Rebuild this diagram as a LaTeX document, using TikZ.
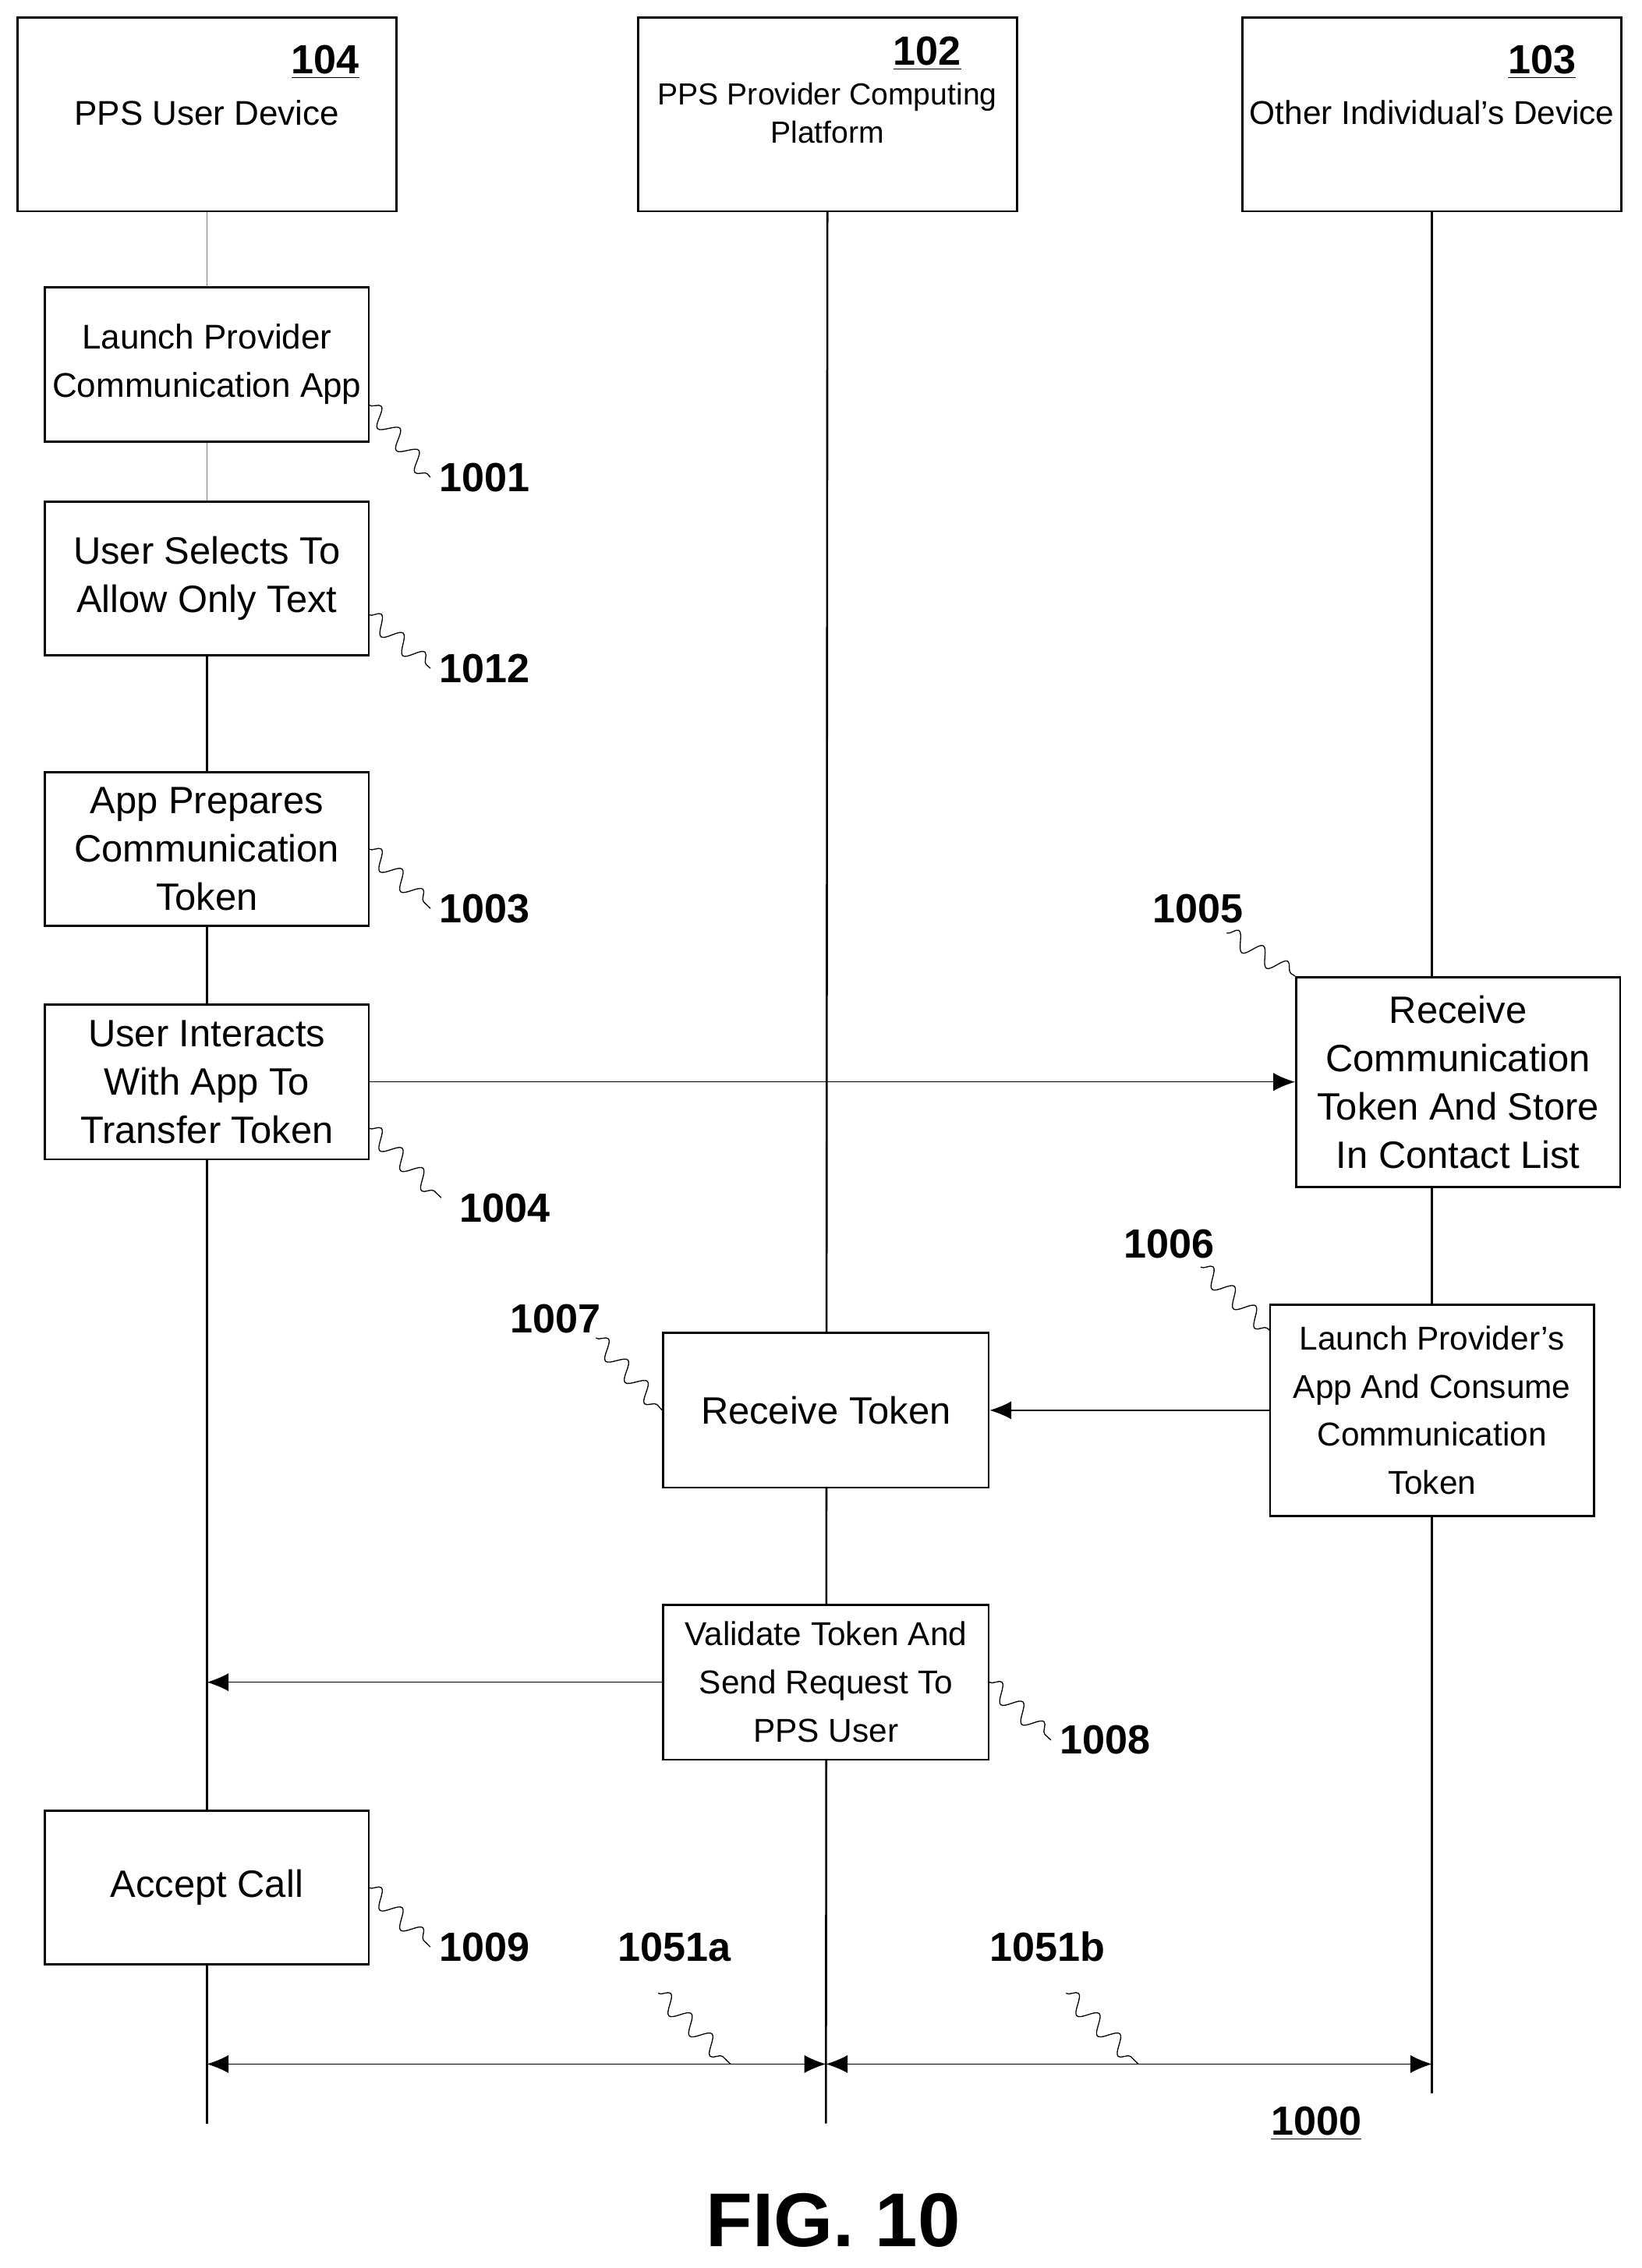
\documentclass[tikz,border=0pt]{standalone}
\usepackage{fontspec}
\setmainfont{Liberation Sans}
\usetikzlibrary{arrows.meta,decorations.pathmorphing}
\begin{document}
\begin{tikzpicture}[x=0.02cm,y=-0.02cm,
  head/.style={rectangle, draw=black, thick, inner sep=0pt},
  procbox/.style={rectangle, draw=black, thick, fill=white, align=center, inner sep=0pt, font=\fontsize{15}{19}\selectfont},
  ref/.style={font=\fontsize{16}{19}\selectfont\bfseries},
  wave/.style={decorate, decoration={snake, amplitude=1.2mm, segment length=4mm}, thin},
  msg/.style={-{Latex[length=3mm,width=2.5mm]}, thin},
  life/.style={thick},
  ]
\useasboundingbox (0,0) rectangle (1135,1568);
% headers
\node[head, minimum width=5.24cm, minimum height=2.68cm] (dev) at (143,79) {};
\node[ref] at (225,43) {\underline{104}};
\node[font=\fontsize{13.5}{16}\selectfont] at (143,78) {PPS User Device};
\node[head, minimum width=5.24cm, minimum height=2.68cm] (plat) at (572,79) {};
\node[ref] at (641,37) {\underline{102}};
\node[font=\fontsize{12}{15}\selectfont, align=center] at (572,78) {PPS Provider Computing\\Platform};
\node[head, minimum width=5.24cm, minimum height=2.68cm] (other) at (990,79) {};
\node[ref] at (1066,43) {\underline{103}};
\node[font=\fontsize{13}{16}\selectfont] at (990,78) {Other Individual’s Device};
% lifelines
\coordinate (devend) at (143,1468);
\coordinate (platend) at (571,1468);
\coordinate (otherend) at (990,1447);
\draw[gray, thin] (dev.south) -- (143,453);
\draw[life] (143,453) -- (devend);
\draw[life] (plat.south) -- (platend);
\draw[life] (other.south) -- (otherend);
% steps
\node[procbox, minimum width=4.48cm, minimum height=2.14cm, font=\fontsize{13.5}{19}\selectfont] (s1001) at (143,252) {Launch Provider\\Communication App};
\node[procbox, minimum width=4.48cm, minimum height=2.12cm] (s1012) at (143,400) {User Selects To\\Allow Only Text};
\node[procbox, minimum width=4.48cm, minimum height=2.12cm] (s1003) at (143,587) {App Prepares\\Communication\\Token};
\node[procbox, minimum width=4.48cm, minimum height=2.14cm] (s1004) at (143,748) {User Interacts\\With App To\\Transfer Token};
\node[procbox, minimum width=4.48cm, minimum height=2.9cm] (s1005) at (1008,748) {Receive\\Communication\\Token And Store\\In Contact List};
\node[procbox, minimum width=4.5cm, minimum height=2.14cm] (s1007) at (571,975) {Receive Token};
\node[procbox, minimum width=4.48cm, minimum height=2.92cm, font=\fontsize{13}{19}\selectfont] (s1006) at (990,975) {Launch Provider’s\\App And Consume\\Communication\\Token};
\node[procbox, minimum width=4.5cm, minimum height=2.14cm, font=\fontsize{13}{19}\selectfont] (s1008) at (571,1163) {Validate Token And\\Send Request To\\PPS User};
\node[procbox, minimum width=4.48cm, minimum height=2.12cm] (s1009) at (143,1305) {Accept Call};
% messages
\draw[msg] (s1004.east) -- (s1005.west);
\draw[msg] (s1006.west) -- (s1007.east);
\draw[msg] (s1008.west) -- (143,1163);
\coordinate (b1) at (143,1427);
\coordinate (b2) at (571,1427);
\coordinate (b3) at (990,1427);
\draw[{Latex[length=3mm,width=2.5mm]}-{Latex[length=3mm,width=2.5mm]}, thin] (b1) -- (b2);
\draw[{Latex[length=3mm,width=2.5mm]}-{Latex[length=3mm,width=2.5mm]}, thin] (b2) -- (b3);
% reference labels
\node[ref] (r1001) at (335,330) {1001};
\node[ref] (r1012) at (335,462) {1012};
\node[ref] (r1003) at (335,628) {1003};
\node[ref] (r1004) at (349,835) {1004};
\node[ref] (r1005) at (828,628) {1005};
\node[ref] (r1006) at (808,860) {1006};
\node[ref] (r1007) at (384,912) {1007};
\node[ref] (r1008) at (764,1203) {1008};
\node[ref] (r1009) at (335,1346) {1009};
\node[ref] (r1051a) at (466,1346) {1051a};
\node[ref] (r1051b) at (724,1346) {1051b};
\node[ref] (r1000) at (910,1468) {\underline{1000}};
\node[font=\fontsize{30}{34}\selectfont\bfseries] (fig) at (576,1535) {FIG. 10};
% leader squiggles
\draw[wave] (255,280) -- (r1001.west);
\draw[wave] (255,425) -- (r1012.west);
\draw[wave] (255,587) -- (r1003.west);
\draw[wave] (255,780) -- (305,828);
\draw[wave] (848,645) -- (s1005.north west);
\draw[wave] (830,876) -- (878,920);
\draw[wave] (412,925) -- (s1007.west);
\draw[wave] (684,1163) -- (r1008.west);
\draw[wave] (255,1305) -- (r1009.west);
\draw[wave] (455,1378) -- (505,1427);
\draw[wave] (737,1378) -- (787,1427);
\end{tikzpicture}
\end{document}
